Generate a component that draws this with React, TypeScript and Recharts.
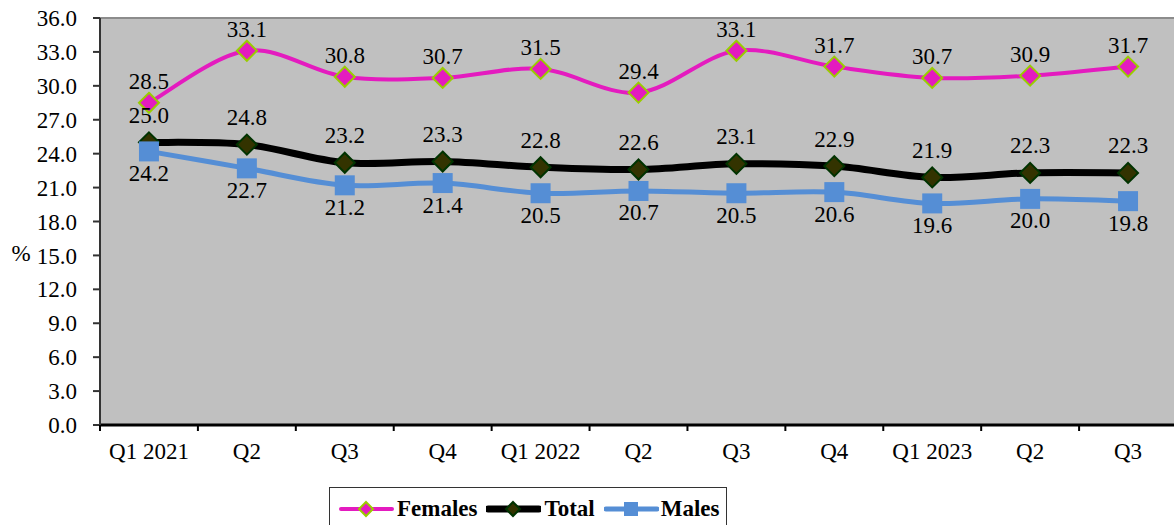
import React from "react";
import {
  LineChart,
  Line,
  XAxis,
  YAxis,
  CartesianGrid,
  ReferenceLine,
  LabelList,
} from "recharts";

const quarters = ["Q1 2021", "Q2", "Q3", "Q4", "Q1 2022", "Q2", "Q3", "Q4", "Q1 2023", "Q2", "Q3"];
const females = [28.5, 33.1, 30.8, 30.7, 31.5, 29.4, 33.1, 31.7, 30.7, 30.9, 31.7];
const total = [25.0, 24.8, 23.2, 23.3, 22.8, 22.6, 23.1, 22.9, 21.9, 22.3, 22.3];
const males = [24.2, 22.7, 21.2, 21.4, 20.5, 20.7, 20.5, 20.6, 19.6, 20.0, 19.8];
const yTicks = [0, 3, 6, 9, 12, 15, 18, 21, 24, 27, 30, 33, 36];

const data = quarters.map((q, i) => ({
  idx: i,
  quarter: q,
  females: females[i],
  total: total[i],
  males: males[i],
}));

const FONT = "'Liberation Serif', 'DejaVu Serif', 'Noto Serif', serif";
const FS = 23;
const PINK = "#E41BBF";
const BLUE = "#558ED5";
const BAND = 1077 / 11;

// excel-ish smoothed line (catmull-rom as bezier)
function smoothCurve(context: any) {
  let pts: number[][] = [];
  return {
    areaStart() {},
    areaEnd() {},
    lineStart() {
      pts = [];
    },
    point(x: number, y: number) {
      pts.push([+x, +y]);
    },
    lineEnd() {
      if (!pts.length) return;
      context.moveTo(pts[0][0], pts[0][1]);
      for (let i = 0; i < pts.length - 1; i++) {
        const p0 = pts[i - 1] || pts[i];
        const p1 = pts[i];
        const p2 = pts[i + 1];
        const p3 = pts[i + 2] || p2;
        context.bezierCurveTo(
          p1[0] + (p2[0] - p0[0]) / 6,
          p1[1] + (p2[1] - p0[1]) / 6,
          p2[0] - (p3[0] - p1[0]) / 6,
          p2[1] - (p3[1] - p1[1]) / 6,
          p2[0],
          p2[1]
        );
      }
    },
  };
}

const diamond = (fill: string, stroke: string) => (props: any) => {
  const { cx, cy, index } = props;
  if (cx == null || cy == null) return <g key={index} />;
  const r = 10;
  return (
    <path
      key={index}
      d={`M${cx},${cy - r} L${cx + r},${cy} L${cx},${cy + r} L${cx - r},${cy} Z`}
      fill={fill}
      stroke={stroke}
      strokeWidth={2}
    />
  );
};

const square = (props: any) => {
  const { cx, cy, index } = props;
  if (cx == null || cy == null) return <g key={index} />;
  return <rect key={index} x={cx - 10} y={cy - 10} width={20} height={20} fill={BLUE} />;
};

const valueLabel = (dy: number) => (props: any) => {
  const { x, y, value, index } = props;
  return (
    <text
      key={index}
      x={x}
      y={y + dy}
      textAnchor="middle"
      dominantBaseline="central"
      fontFamily={FONT}
      fontSize={FS}
      fill="#000"
    >
      {Number(value).toFixed(1)}
    </text>
  );
};

const QuarterTick = (props: any) => {
  const { x, y, payload, index } = props;
  const last = index === quarters.length - 1;
  return (
    <g>
      <line x1={x - BAND / 2} x2={x - BAND / 2} y1={y} y2={y + 6} stroke="#000" strokeWidth={2} />
      {last && <line x1={x + BAND / 2} x2={x + BAND / 2} y1={y} y2={y + 6} stroke="#000" strokeWidth={2} />}
      <text x={x} y={y + 26} textAnchor="middle" dominantBaseline="central" fontFamily={FONT} fontSize={FS} fill="#000">
        {quarters[payload.value]}
      </text>
    </g>
  );
};

const PercentLabel = (props: any) => {
  const { viewBox } = props;
  const cy = viewBox.y + viewBox.height / 2 + 32;
  return (
    <text x={21} y={cy} textAnchor="middle" dominantBaseline="central" fontFamily={FONT} fontSize={FS} fill="#000">
      %
    </text>
  );
};

const LegendIcon = ({ color, width, marker }: { color: string; width: number; marker: React.ReactNode }) => (
  <svg width={55} height={24} style={{ display: "block" }}>
    <line x1={2} x2={53} y1={12} y2={12} stroke={color} strokeWidth={width} strokeLinecap="round" />
    {marker}
  </svg>
);

export default function App() {
  return (
    <div
      style={{
        position: "fixed",
        left: 0,
        top: 0,
        width: 1174,
        height: 525,
        overflow: "hidden",
        background: "#fff",
      }}
    >
      <LineChart width={1182} height={525} data={data} margin={{ top: 18, right: 5, left: 0, bottom: 0 }}>
        <CartesianGrid horizontal={false} vertical={false} fill="#C0C0C0" />
        <XAxis
          dataKey="idx"
          type="category"
          height={100}
          padding={{ left: BAND / 2, right: BAND / 2 }}
          tickLine={false}
          tickSize={0}
          tickMargin={0}
          axisLine={{ stroke: "#000", strokeWidth: 3 }}
          tick={<QuarterTick />}
          interval={0}
        />
        <YAxis
          width={100}
          domain={[0, 36]}
          ticks={yTicks}
          interval={0}
          tickSize={7}
          tickMargin={16}
          tickFormatter={(v: number) => v.toFixed(1)}
          axisLine={{ stroke: "#333", strokeWidth: 2 }}
          tickLine={{ stroke: "#333", strokeWidth: 2 }}
          tick={{ fontFamily: FONT, fontSize: FS, fill: "#000" }}
          label={<PercentLabel />}
        />
        <ReferenceLine y={36} stroke="#8C8C8C" strokeWidth={2} />
        <Line
          dataKey="females"
          type={smoothCurve as any}
          stroke={PINK}
          strokeWidth={4}
          dot={diamond(PINK, "#99CC00")}
          activeDot={false}
          isAnimationActive={false}
        >
          <LabelList dataKey="females" content={valueLabel(-21)} />
        </Line>
        <Line
          dataKey="total"
          type={smoothCurve as any}
          stroke="#000"
          strokeWidth={7}
          dot={diamond("#333300", "#003300")}
          activeDot={false}
          isAnimationActive={false}
        >
          <LabelList dataKey="total" content={valueLabel(-27)} />
        </Line>
        <Line
          dataKey="males"
          type={smoothCurve as any}
          stroke={BLUE}
          strokeWidth={5}
          dot={square}
          activeDot={false}
          isAnimationActive={false}
        >
          <LabelList dataKey="males" content={valueLabel(22)} />
        </Line>
      </LineChart>

      <div
        style={{
          position: "absolute",
          left: 329,
          top: 487,
          width: 398,
          height: 50,
          border: "1.5px solid #333",
          display: "flex",
          alignItems: "flex-start",
          paddingTop: 9,
          paddingLeft: 9,
          boxSizing: "border-box",
          fontFamily: FONT,
          fontWeight: "bold",
          fontSize: FS,
        }}
      >
        <LegendIcon
          color={PINK}
          width={4}
          marker={<path d="M27,5 L34,12 L27,19 L20,12 Z" fill={PINK} stroke="#99CC00" strokeWidth={2} />}
        />
        <span style={{ marginLeft: 3, marginRight: 9, lineHeight: "24px" }}>Females</span>
        <LegendIcon
          color="#000"
          width={7}
          marker={<path d="M27,5 L34,12 L27,19 L20,12 Z" fill="#333300" stroke="#003300" strokeWidth={2} />}
        />
        <span style={{ marginLeft: 3, marginRight: 9, lineHeight: "24px" }}>Total</span>
        <LegendIcon color={BLUE} width={5} marker={<rect x={20} y={5} width={14} height={14} fill={BLUE} />} />
        <span style={{ marginLeft: 2, lineHeight: "24px" }}>Males</span>
      </div>
    </div>
  );
}
